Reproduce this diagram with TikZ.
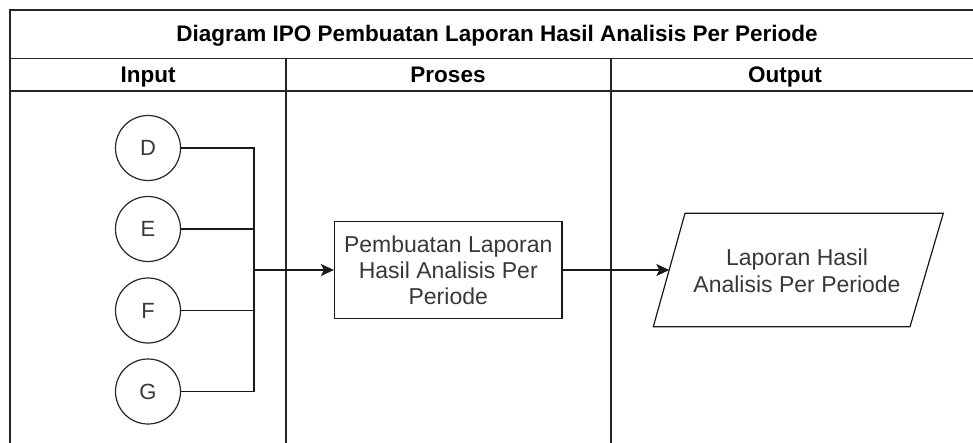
\documentclass[tikz,border=0pt]{standalone}
\usepackage{fontspec}
\setmainfont{Liberation Sans}
\usetikzlibrary{arrows.meta}
\begin{document}
\begin{tikzpicture}[x=1pt,y=-1pt,
  frame/.style={draw=black!85, line width=1.3pt},
  conn/.style={draw=black!90, line width=1.2pt},
  arr/.style={conn, -{Stealth[length=13pt,width=12pt,inset=3pt]}},
  inbox/.style={circle, draw=black!85, line width=1.2pt, minimum size=65pt, inner sep=0pt,
    font=\fontsize{22}{26}\selectfont, text=black!78},
  procbox/.style={rectangle, draw=black!90, line width=1.2pt, minimum width=227.5pt,
    minimum height=97pt, inner sep=0pt, align=center,
    font=\fontsize{23}{26}\selectfont, text=black!78},
  outtext/.style={align=center, inner sep=0pt, font=\fontsize{23}{26.5}\selectfont, text=black!78},
  titletext/.style={font=\bfseries\fontsize{22.5}{26}\selectfont, inner sep=0pt, anchor=base},
  headtext/.style={font=\bfseries\fontsize{22.5}{26}\selectfont, inner sep=0pt, anchor=base}
]
\useasboundingbox (0,0) rectangle (973,443);

% table frame
\draw[frame] (973,10) -- (10,10) -- (10,443);
\draw[frame] (10,58.5) -- (973,58.5);
\draw[frame] (10,91) -- (973,91);
\draw[frame] (286,58.5) -- (286,443);
\draw[frame] (611,58.5) -- (611,443);

\node[titletext] (title) at (497,42) {Diagram IPO Pembuatan Laporan Hasil Analisis Per Periode};
\node[headtext] (hin) at (148,82.5) {Input};
\node[headtext] (hpr) at (448,82.5) {Proses};
\node[headtext] (hout) at (785,82.5) {Output};

% inputs
\node[inbox] (D) at (148,148) {D};
\node[inbox] (E) at (148,229) {E};
\node[inbox] (F) at (148,310.5) {F};
\node[inbox] (G) at (148,391.5) {G};

% process
\node[procbox] (P) at (448.25,270) {Pembuatan Laporan\\Hasil Analisis Per\\Periode};

% output parallelogram
\draw[conn] (685,213.3) -- (943.3,213.3) -- (910,326.7) -- (653.3,326.7) -- cycle;
\node[outtext] (O) at (797,271) {Laporan Hasil\\Analisis Per Periode};
\coordinate (Oin) at (669.3,270);

% connectors
\coordinate (J) at (254,270);
\draw[conn] (D.east) -- (D.east -| J) -- (G.east -| J) -- (G.east);
\draw[conn] (E.east) -- (E.east -| J);
\draw[conn] (F.east) -- (F.east -| J);
\draw[arr] (J) -- (P.west);
\draw[arr] (P.east) -- (Oin);
\end{tikzpicture}
\end{document}
